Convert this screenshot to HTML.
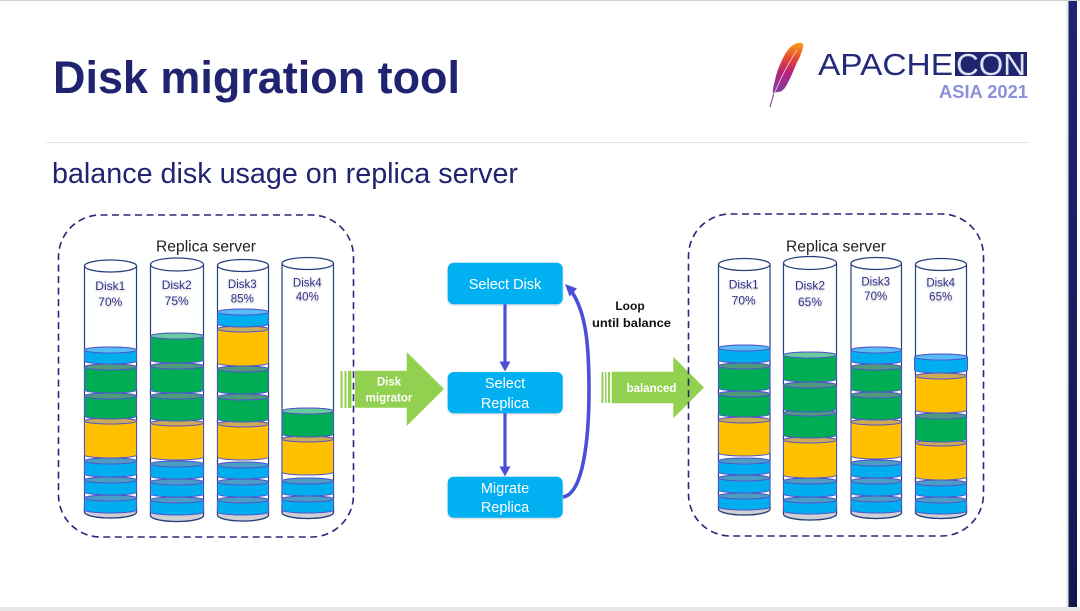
<!DOCTYPE html>
<html><head><meta charset="utf-8"><title>Disk migration tool</title>
<style>
html,body{margin:0;padding:0;background:#fff;width:1080px;height:611px;overflow:hidden}
svg{display:block;filter:blur(.35px)}
text{font-family:"Liberation Sans",sans-serif}
.b{fill:#00aeef;stroke:#4f55cc;stroke-width:1}
.g{fill:#00ad55;stroke:#4f55cc;stroke-width:1}
.o{fill:#ffc000;stroke:#4f55cc;stroke-width:1}
.tb{fill:#4c9dc4;stroke:#4f55cc;stroke-width:1}
.tg{fill:#4f9a7c;stroke:#4f55cc;stroke-width:1}
.to{fill:#cdaa55;stroke:#4f55cc;stroke-width:1}
.lb{fill:#58bdf2;stroke:#4f55cc;stroke-width:1}
.lg{fill:#68cc9c;stroke:#4f55cc;stroke-width:1}
.c{fill:#fff;stroke:#24407c;stroke-width:1.2}
.f{fill:#cfcfd4;stroke:#24407c;stroke-width:1.2}
.dl{fill:#33338f;font-size:12px;text-anchor:middle;filter:url(#ts)}
.dash{fill:none;stroke:#28287c;stroke-width:1.6;stroke-dasharray:7 4.5}
.box{fill:#00b0f0;filter:url(#ss)}
.bt{fill:#fff;font-size:14.5px;text-anchor:middle}
.at{fill:#fff;font-size:11.5px;font-weight:bold;text-anchor:middle}
</style></head><body>
<svg width="1080" height="611" viewBox="0 0 1080 611" xmlns="http://www.w3.org/2000/svg">
<defs>
<linearGradient id="fe" x1="0" y1="0" x2="0" y2="1"><stop offset="0" stop-color="#f9a01b"/><stop offset=".3" stop-color="#e6482e"/><stop offset=".6" stop-color="#b3247f"/><stop offset="1" stop-color="#7b3fa0"/></linearGradient>
<linearGradient id="bar" x1="0" y1="0" x2="0" y2="1"><stop offset="0" stop-color="#1f2275"/><stop offset="1" stop-color="#14174f"/></linearGradient>
<filter id="ts" x="-20%" y="-20%" width="140%" height="150%"><feDropShadow dx="0" dy="1" stdDeviation="1" flood-color="#000" flood-opacity=".25"/></filter>
<filter id="ss" x="-10%" y="-10%" width="120%" height="130%"><feDropShadow dx="0" dy="1" stdDeviation="1" flood-color="#000" flood-opacity=".2"/></filter>
</defs>
<rect width="1080" height="611" fill="#fff"/>
<rect width="1080" height="1" fill="#cfcfcf"/>
<rect x="0" y="607" width="1080" height="4" fill="#e6e6e6"/>
<rect x="1066" y="1" width="2.5" height="606" fill="#eaeaea"/>
<rect x="1068.5" y="1" width="8.5" height="606" fill="url(#bar)"/>

<text x="53" y="93" font-size="45" font-weight="bold" fill="#20236f" textLength="407" lengthAdjust="spacingAndGlyphs">Disk migration tool</text>
<rect x="46" y="142" width="983" height="1" fill="#e4e4e4"/>
<text x="52" y="183" font-size="29" fill="#20236f" textLength="466" lengthAdjust="spacingAndGlyphs">balance disk usage on replica server</text>

<!-- logo -->
<path d="M800.7 42.7C803 43 804 45 803 47C801 55 799 59 796.7 63C793 72 790 79 786.7 85C784 90 781 92 778 92L772.7 93C773 88 774 84 775 80C777 71 780 64 783 58C786 52 789 48 793 45C796 43 798 42.7 800.7 42.7Z" fill="url(#fe)"/>
<path d="M774 93L770 107" stroke="#8a4fa8" stroke-width="1.2" fill="none"/>
<path d="M797 50C789 62 780 80 774 94" stroke="#f6d9e4" stroke-width=".7" fill="none"/>
<text x="818" y="75" font-size="31" fill="#232a7a" textLength="135" lengthAdjust="spacingAndGlyphs">APACHE</text>
<rect x="955" y="52" width="72" height="24" fill="#20256f"/>
<text x="956" y="75" font-size="31" fill="#dfe1f5" textLength="70" lengthAdjust="spacingAndGlyphs">CON</text>
<text x="939" y="98" font-size="18.5" font-weight="bold" fill="#8b90d8" textLength="89" lengthAdjust="spacingAndGlyphs">ASIA 2021</text>

<!-- green arrows -->
<g fill="#92d050">
<rect x="340.5" y="371" width="2" height="37"/><rect x="344.5" y="371" width="2" height="37"/><rect x="348" y="371" width="3.5" height="37"/>
<path d="M355 370.7H406.7V352L444 389L406.7 426V407.7H355Z"/>
<rect x="601.5" y="372" width="2" height="31"/><rect x="605" y="372" width="1.5" height="31"/><rect x="608" y="372" width="2" height="31"/>
<path d="M611.7 371.7H673.3V356.7L704 387.5L673.3 418.3V403.3H611.7Z"/>
</g>
<text class="at" x="389" y="385.7">Disk</text>
<text class="at" x="389" y="401.7">migrator</text>
<text class="at" x="651.5" y="392">balanced</text>

<rect class="dash" x="58.5" y="215" width="295" height="322" rx="42"/>
<rect class="dash" x="688.5" y="214" width="295" height="322" rx="42"/>
<text x="206" y="251.5" font-size="15.5" fill="#222" text-anchor="middle" textLength="100" lengthAdjust="spacingAndGlyphs">Replica server</text>
<text x="836" y="251.5" font-size="15.5" fill="#222" text-anchor="middle" textLength="100" lengthAdjust="spacingAndGlyphs">Replica server</text>

<!-- Left disk 1 -->
<g transform="translate(84.5)">
<path class="c" d="M0 266V512a26 6 0 0 0 52 0V266z"/><path class="f" d="M0 512a26 6 0 0 0 52 0V506H0z"/>
<path class="b" d="M0 498V510a26 3 0 0 0 52 0V498a26 3 0 0 0-52 0z"/><ellipse class="tb" cx="26" cy="498" rx="26" ry="3"/>
<path class="b" d="M0 480V492a26 3 0 0 0 52 0V480a26 3 0 0 0-52 0z"/><ellipse class="tb" cx="26" cy="480" rx="26" ry="3"/>
<path class="b" d="M0 461V474a26 3 0 0 0 52 0V461a26 3 0 0 0-52 0z"/><ellipse class="tb" cx="26" cy="461" rx="26" ry="3"/>
<path class="o" d="M0 421V455a26 3 0 0 0 52 0V421a26 3 0 0 0-52 0z"/><ellipse class="to" cx="26" cy="421" rx="26" ry="3"/>
<path class="g" d="M0 396V416a26 3 0 0 0 52 0V396a26 3 0 0 0-52 0z"/><ellipse class="tg" cx="26" cy="396" rx="26" ry="3"/>
<path class="g" d="M0 367V390a26 3 0 0 0 52 0V367a26 3 0 0 0-52 0z"/><ellipse class="tg" cx="26" cy="367" rx="26" ry="3"/>
<path class="b" d="M0 350V361a26 3 0 0 0 52 0V350a26 3 0 0 0-52 0z"/><ellipse class="lb" cx="26" cy="350" rx="26" ry="3"/>
<ellipse class="c" cx="26" cy="266" rx="26" ry="6"/>
</g>
<!-- Left disk 2 -->
<g transform="translate(150.5)">
<path class="c" d="M0 264.5V515.5a26.5 6 0 0 0 53 0V264.5z"/><path class="f" d="M0 515.5a26.5 6 0 0 0 53 0V509H0z"/>
<path class="b" d="M0 500V512a26.5 3 0 0 0 53 0V500a26.5 3 0 0 0-53 0z"/><ellipse class="tb" cx="26.5" cy="500" rx="26.5" ry="3"/>
<path class="b" d="M0 482V494a26.5 3 0 0 0 53 0V482a26.5 3 0 0 0-53 0z"/><ellipse class="tb" cx="26.5" cy="482" rx="26.5" ry="3"/>
<path class="b" d="M0 464V476a26.5 3 0 0 0 53 0V464a26.5 3 0 0 0-53 0z"/><ellipse class="tb" cx="26.5" cy="464" rx="26.5" ry="3"/>
<path class="o" d="M0 423V457a26.5 3 0 0 0 53 0V423a26.5 3 0 0 0-53 0z"/><ellipse class="to" cx="26.5" cy="423" rx="26.5" ry="3"/>
<path class="g" d="M0 396V418a26.5 3 0 0 0 53 0V396a26.5 3 0 0 0-53 0z"/><ellipse class="tg" cx="26.5" cy="396" rx="26.5" ry="3"/>
<path class="g" d="M0 366V390a26.5 3 0 0 0 53 0V366a26.5 3 0 0 0-53 0z"/><ellipse class="tg" cx="26.5" cy="366" rx="26.5" ry="3"/>
<path class="g" d="M0 336V360a26.5 3 0 0 0 53 0V336a26.5 3 0 0 0-53 0z"/><ellipse class="lg" cx="26.5" cy="336" rx="26.5" ry="3"/>
<ellipse class="c" cx="26.5" cy="264.5" rx="26.5" ry="6.5"/>
</g>
<!-- Left disk 3 -->
<g transform="translate(217.5)">
<path class="c" d="M0 265.5V515a25.5 6 0 0 0 51 0V265.5z"/><path class="f" d="M0 515a25.5 6 0 0 0 51 0V509H0z"/>
<path class="b" d="M0 500V512a25.5 3 0 0 0 51 0V500a25.5 3 0 0 0-51 0z"/><ellipse class="tb" cx="25.5" cy="500" rx="25.5" ry="3"/>
<path class="b" d="M0 482V494a25.5 3 0 0 0 51 0V482a25.5 3 0 0 0-51 0z"/><ellipse class="tb" cx="25.5" cy="482" rx="25.5" ry="3"/>
<path class="b" d="M0 465V476a25.5 3 0 0 0 51 0V465a25.5 3 0 0 0-51 0z"/><ellipse class="tb" cx="25.5" cy="465" rx="25.5" ry="3"/>
<path class="o" d="M0 424V457a25.5 3 0 0 0 51 0V424a25.5 3 0 0 0-51 0z"/><ellipse class="to" cx="25.5" cy="424" rx="25.5" ry="3"/>
<path class="g" d="M0 397V419a25.5 3 0 0 0 51 0V397a25.5 3 0 0 0-51 0z"/><ellipse class="tg" cx="25.5" cy="397" rx="25.5" ry="3"/>
<path class="g" d="M0 369V391a25.5 3 0 0 0 51 0V369a25.5 3 0 0 0-51 0z"/><ellipse class="tg" cx="25.5" cy="369" rx="25.5" ry="3"/>
<path class="o" d="M0 329V363a25.5 3 0 0 0 51 0V329a25.5 3 0 0 0-51 0z"/><ellipse class="to" cx="25.5" cy="329" rx="25.5" ry="3"/>
<path class="b" d="M0 312V324a25.5 3 0 0 0 51 0V312a25.5 3 0 0 0-51 0z"/><ellipse class="lb" cx="25.5" cy="312" rx="25.5" ry="3"/>
<ellipse class="c" cx="25.5" cy="265.5" rx="25.5" ry="6"/>
</g>
<!-- Left disk 4 -->
<g transform="translate(282)">
<path class="c" d="M0 263.5V512.5a25.75 6 0 0 0 51.5 0V263.5z"/><path class="f" d="M0 512.5a25.75 6 0 0 0 51.5 0V506H0z"/>
<path class="b" d="M0 499V510a25.75 3 0 0 0 51.5 0V499a25.75 3 0 0 0-51.5 0z"/><ellipse class="tb" cx="25.75" cy="499" rx="25.75" ry="3"/>
<path class="b" d="M0 481V493a25.75 3 0 0 0 51.5 0V481a25.75 3 0 0 0-51.5 0z"/><ellipse class="tb" cx="25.75" cy="481" rx="25.75" ry="3"/>
<path class="o" d="M0 439V472a25.75 3 0 0 0 51.5 0V439a25.75 3 0 0 0-51.5 0z"/><ellipse class="to" cx="25.75" cy="439" rx="25.75" ry="3"/>
<path class="g" d="M0 411V434a25.75 3 0 0 0 51.5 0V411a25.75 3 0 0 0-51.5 0z"/><ellipse class="lg" cx="25.75" cy="411" rx="25.75" ry="3"/>
<ellipse class="c" cx="25.75" cy="263.5" rx="25.75" ry="6"/>
</g>
<!-- Right disk 1 -->
<g transform="translate(718.5)">
<path class="c" d="M0 264.5V509a25.75 6 0 0 0 51.5 0V264.5z"/><path class="f" d="M0 509a25.75 6 0 0 0 51.5 0V503H0z"/>
<path class="b" d="M0 496V507a25.75 3 0 0 0 51.5 0V496a25.75 3 0 0 0-51.5 0z"/><ellipse class="tb" cx="25.75" cy="496" rx="25.75" ry="3"/>
<path class="b" d="M0 478V490a25.75 3 0 0 0 51.5 0V478a25.75 3 0 0 0-51.5 0z"/><ellipse class="tb" cx="25.75" cy="478" rx="25.75" ry="3"/>
<path class="b" d="M0 461V472a25.75 3 0 0 0 51.5 0V461a25.75 3 0 0 0-51.5 0z"/><ellipse class="tb" cx="25.75" cy="461" rx="25.75" ry="3"/>
<path class="o" d="M0 420V453a25.75 3 0 0 0 51.5 0V420a25.75 3 0 0 0-51.5 0z"/><ellipse class="to" cx="25.75" cy="420" rx="25.75" ry="3"/>
<path class="g" d="M0 394V414a25.75 3 0 0 0 51.5 0V394a25.75 3 0 0 0-51.5 0z"/><ellipse class="tg" cx="25.75" cy="394" rx="25.75" ry="3"/>
<path class="g" d="M0 366V388a25.75 3 0 0 0 51.5 0V366a25.75 3 0 0 0-51.5 0z"/><ellipse class="tg" cx="25.75" cy="366" rx="25.75" ry="3"/>
<path class="b" d="M0 348V360a25.75 3 0 0 0 51.5 0V348a25.75 3 0 0 0-51.5 0z"/><ellipse class="lb" cx="25.75" cy="348" rx="25.75" ry="3"/>
<ellipse class="c" cx="25.75" cy="264.5" rx="25.75" ry="6"/>
</g>
<!-- Right disk 2 -->
<g transform="translate(783.5)">
<path class="c" d="M0 263V514a26.5 6 0 0 0 53 0V263z"/><path class="f" d="M0 514a26.5 6 0 0 0 53 0V508H0z"/>
<path class="b" d="M0 500V511a26.5 3 0 0 0 53 0V500a26.5 3 0 0 0-53 0z"/><ellipse class="tb" cx="26.5" cy="500" rx="26.5" ry="3"/>
<path class="b" d="M0 481V494a26.5 3 0 0 0 53 0V481a26.5 3 0 0 0-53 0z"/><ellipse class="tb" cx="26.5" cy="481" rx="26.5" ry="3"/>
<path class="o" d="M0 440V475a26.5 3 0 0 0 53 0V440a26.5 3 0 0 0-53 0z"/><ellipse class="to" cx="26.5" cy="440" rx="26.5" ry="3"/>
<path class="g" d="M0 413V435a26.5 3 0 0 0 53 0V413a26.5 3 0 0 0-53 0z"/><ellipse class="tg" cx="26.5" cy="413" rx="26.5" ry="3"/>
<path class="g" d="M0 385V409a26.5 3 0 0 0 53 0V385a26.5 3 0 0 0-53 0z"/><ellipse class="tg" cx="26.5" cy="385" rx="26.5" ry="3"/>
<path class="g" d="M0 355V379a26.5 3 0 0 0 53 0V355a26.5 3 0 0 0-53 0z"/><ellipse class="lg" cx="26.5" cy="355" rx="26.5" ry="3"/>
<ellipse class="c" cx="26.5" cy="263" rx="26.5" ry="6.5"/>
</g>
<!-- Right disk 3 -->
<g transform="translate(851)">
<path class="c" d="M0 263.5V512.5a25.25 6 0 0 0 50.5 0V263.5z"/><path class="f" d="M0 512.5a25.25 6 0 0 0 50.5 0V506H0z"/>
<path class="b" d="M0 499V510a25.25 3 0 0 0 50.5 0V499a25.25 3 0 0 0-50.5 0z"/><ellipse class="tb" cx="25.25" cy="499" rx="25.25" ry="3"/>
<path class="b" d="M0 481V493a25.25 3 0 0 0 50.5 0V481a25.25 3 0 0 0-50.5 0z"/><ellipse class="tb" cx="25.25" cy="481" rx="25.25" ry="3"/>
<path class="b" d="M0 463V475a25.25 3 0 0 0 50.5 0V463a25.25 3 0 0 0-50.5 0z"/><ellipse class="tb" cx="25.25" cy="463" rx="25.25" ry="3"/>
<path class="o" d="M0 422V456a25.25 3 0 0 0 50.5 0V422a25.25 3 0 0 0-50.5 0z"/><ellipse class="to" cx="25.25" cy="422" rx="25.25" ry="3"/>
<path class="g" d="M0 395V417a25.25 3 0 0 0 50.5 0V395a25.25 3 0 0 0-50.5 0z"/><ellipse class="tg" cx="25.25" cy="395" rx="25.25" ry="3"/>
<path class="g" d="M0 367V389a25.25 3 0 0 0 50.5 0V367a25.25 3 0 0 0-50.5 0z"/><ellipse class="tg" cx="25.25" cy="367" rx="25.25" ry="3"/>
<path class="b" d="M0 350V361a25.25 3 0 0 0 50.5 0V350a25.25 3 0 0 0-50.5 0z"/><ellipse class="lb" cx="25.25" cy="350" rx="25.25" ry="3"/>
<ellipse class="c" cx="25.25" cy="263.5" rx="25.25" ry="6"/>
</g>
<!-- Right disk 4 -->
<g transform="translate(915.5)">
<path class="c" d="M0 264.5V512.5a25.5 6 0 0 0 51 0V264.5z"/><path class="f" d="M0 512.5a25.5 6 0 0 0 51 0V506H0z"/>
<path class="b" d="M0 500V511a25.5 3 0 0 0 51 0V500a25.5 3 0 0 0-51 0z"/><ellipse class="tb" cx="25.5" cy="500" rx="25.5" ry="3"/>
<path class="b" d="M0 483V494a25.5 3 0 0 0 51 0V483a25.5 3 0 0 0-51 0z"/><ellipse class="tb" cx="25.5" cy="483" rx="25.5" ry="3"/>
<path class="o" d="M0 443V477a25.5 3 0 0 0 51 0V443a25.5 3 0 0 0-51 0z"/><ellipse class="to" cx="25.5" cy="443" rx="25.5" ry="3"/>
<path class="g" d="M0 416V439a25.5 3 0 0 0 51 0V416a25.5 3 0 0 0-51 0z"/><ellipse class="tg" cx="25.5" cy="416" rx="25.5" ry="3"/>
<path class="o" d="M0 376V410a25.5 3 0 0 0 51 0V376a25.5 3 0 0 0-51 0z"/><ellipse class="to" cx="25.5" cy="376" rx="25.5" ry="3"/>
<path class="b" d="M-1 357V370a26.5 3 0 0 0 53 0V357a26.5 3 0 0 0-53 0z"/><ellipse class="lb" cx="25.5" cy="357" rx="26.5" ry="3"/>
<ellipse class="c" cx="25.5" cy="264.5" rx="25.5" ry="6"/>
</g>

<!-- disk labels -->
<text class="dl" x="110.3" y="290">Disk1</text><text class="dl" x="110.3" y="306">70%</text>
<text class="dl" x="176.7" y="289">Disk2</text><text class="dl" x="176.7" y="305">75%</text>
<text class="dl" x="242.3" y="288" style="font-size:11.5px">Disk3</text><text class="dl" x="242.3" y="302.7" style="font-size:11.5px">85%</text>
<text class="dl" x="307.3" y="286.7" style="font-size:11.5px">Disk4</text><text class="dl" x="307.3" y="300.7" style="font-size:11.5px">40%</text>
<text class="dl" x="743.7" y="288.3">Disk1</text><text class="dl" x="743.7" y="304.3">70%</text>
<text class="dl" x="810" y="289.3">Disk2</text><text class="dl" x="810" y="306">65%</text>
<text class="dl" x="875.7" y="285.7" style="font-size:11.5px">Disk3</text><text class="dl" x="875.7" y="300" style="font-size:11.5px">70%</text>
<text class="dl" x="940.7" y="286.7" style="font-size:11.5px">Disk4</text><text class="dl" x="940.7" y="300.7" style="font-size:11.5px">65%</text>

<!-- flow -->
<rect class="box" x="447.7" y="262.7" width="115" height="41.6" rx="6"/>
<rect class="box" x="447.7" y="372" width="115" height="41.3" rx="6"/>
<rect class="box" x="447.7" y="476.7" width="115" height="41" rx="6"/>
<text class="bt" x="505" y="289">Select Disk</text>
<text class="bt" x="505" y="388">Select</text><text class="bt" x="505" y="408">Replica</text>
<text class="bt" x="505" y="493">Migrate</text><text class="bt" x="505" y="512">Replica</text>
<path d="M505 304.3V364M505 413.3V469" stroke="#4b4fd6" stroke-width="3.2" fill="none"/>
<path d="M499.5 361.5H510.5L505 371.5ZM499.5 466.5H510.5L505 476.5Z" fill="#4b4fd6"/>
<path d="M563 497C583 494 589 440 589 390C589 340 585 312 572 292" stroke="#4b4fd6" stroke-width="3.6" fill="none"/>
<path d="M565 284L577 288.5L569.5 296.5Z" fill="#4b4fd6"/>
<text x="630" y="310" font-size="12" font-weight="bold" fill="#111" text-anchor="middle">Loop</text>
<text x="631.5" y="327" font-size="12" font-weight="bold" fill="#111" text-anchor="middle" textLength="79" lengthAdjust="spacingAndGlyphs">until balance</text>
</svg>
</body></html>
